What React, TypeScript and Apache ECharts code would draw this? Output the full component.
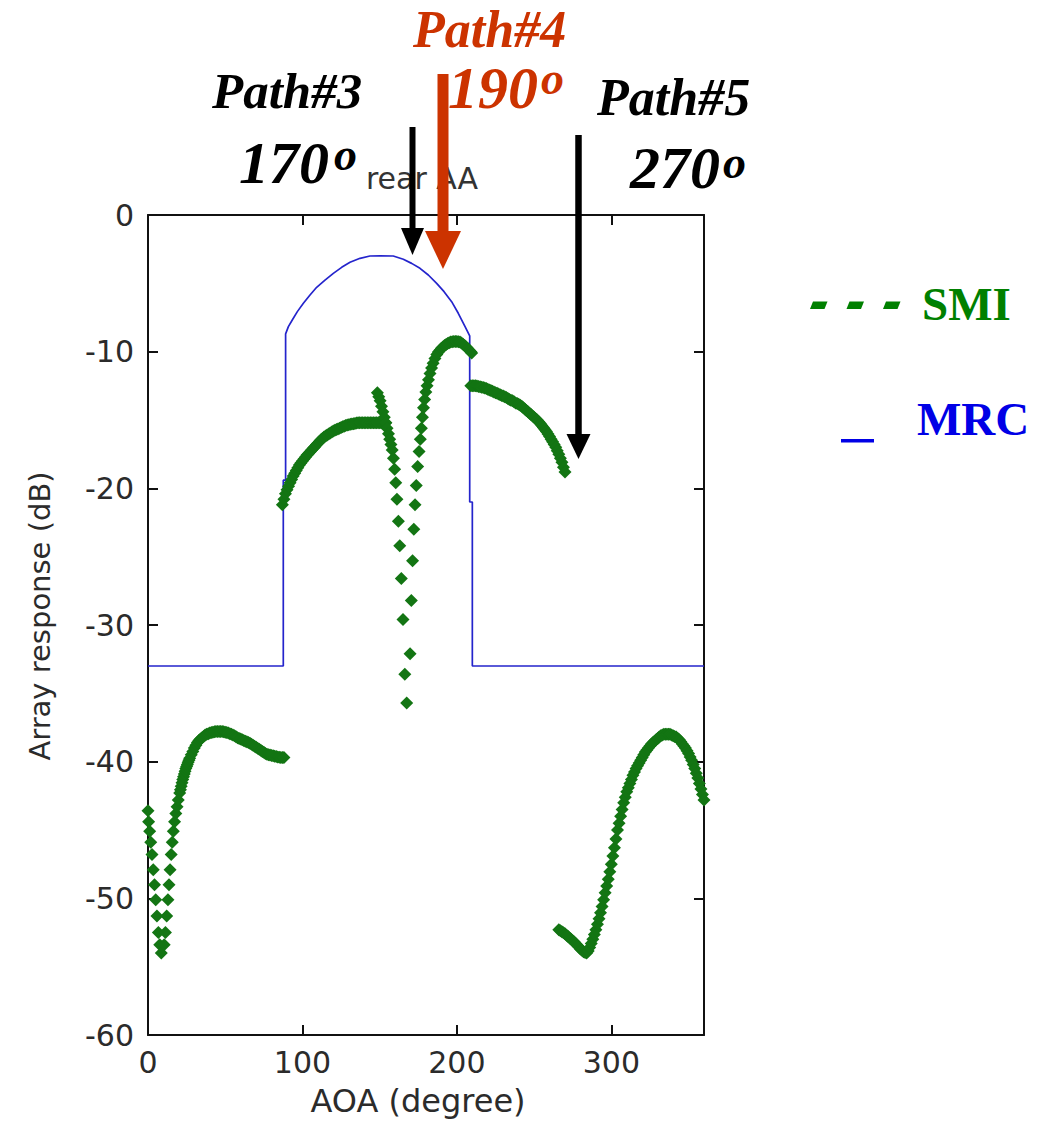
import React, { useEffect, useRef } from "react";
import * as echarts from "echarts";

// ---- axes ----
const xMin = 0;
const xMax = 360;
const xStep = 100;
const yMin = -60;
const yMax = 0;
const yStep = 10;

// ---- MRC (blue line) ----
const mrcAoa = [0, 87.6, 87.6, 89.1, 89.1, 90.9, 93.7, 96.7, 100.6, 104.9, 109.2, 114.6, 120.0, 125.4, 130.8, 137.3, 143.7, 150.2, 158.8, 165.3, 170.7, 176.1, 181.5, 186.9, 191.7, 196.6, 200.9, 205.3, 208.3, 208.3, 210, 210, 360];
const mrcDb = [-33, -33, -19.4, -19.4, -8.7, -8.17, -7.63, -7.07, -6.46, -5.85, -5.29, -4.76, -4.27, -3.83, -3.46, -3.17, -3.0, -2.98, -3.0, -3.24, -3.54, -3.9, -4.39, -5.0, -5.61, -6.34, -7.19, -8.17, -8.85, -21, -21, -33, -33];

// ---- SMI (green diamonds), [AOA, dB] ----
const smiNullLeft: [number, number][] = [
  [0, -43.6], [0.4, -44.4], [1.1, -45.1], [1.8, -45.9], [2.6, -46.8], [3.4, -47.9], [4.2, -49.0],
  [5.0, -50.1], [5.8, -51.3], [6.7, -52.5], [7.6, -53.4], [8.6, -54.0],
];
const smiLobeLeft: [number, number][] = [
  [10.5, -53.4], [11.3, -52.5], [12.1, -51.3], [12.9, -50.1], [13.6, -49.0], [14.3, -47.9], [15.0, -46.8],
  [15.7, -45.9], [16.4, -45.1], [17.2, -44.4], [18.0, -43.8], [18.8, -43.3], [19.6, -42.8], [20.5, -42.3],
  [21.0, -42.05], [21.5, -41.8], [22.0, -41.55], [22.5, -41.3], [23.0, -41.1], [23.5, -40.9], [24.0, -40.7],
  [24.5, -40.5], [25.0, -40.35], [25.5, -40.2], [26.0, -40.05], [26.5, -39.9], [27, -39.75], [28, -39.5],
  [29, -39.25], [30, -39.0], [31, -38.8], [32, -38.6], [33, -38.45], [34, -38.35], [35, -38.25], [36, -38.15],
  [37, -38.05], [38, -38.0], [39, -37.95], [40, -37.9], [41, -37.87], [42, -37.85], [43, -37.82], [44, -37.8],
  [45, -37.8], [46, -37.8], [47, -37.8], [48, -37.8], [49, -37.82], [50, -37.85], [51, -37.87], [52, -37.9],
  [53, -37.95], [54, -38.0], [55, -38.05], [56, -38.1], [57, -38.17], [58, -38.25], [59, -38.3], [60, -38.35],
  [61, -38.4], [62, -38.45], [63, -38.5], [64, -38.55], [65, -38.6], [66, -38.65], [67, -38.72], [68, -38.8],
  [69, -38.87], [70, -38.95], [71, -39.02], [72, -39.1], [73, -39.17], [74, -39.25], [75, -39.32], [76, -39.4],
  [77, -39.45], [78, -39.5], [79, -39.52], [80, -39.55], [81, -39.57], [82, -39.6], [83, -39.62], [84, -39.65],
  [85, -39.67], [86, -39.7], [87, -39.7], [88, -39.7],
];
const smiRise: [number, number][] = [
  [87, -21.2], [88, -20.8], [89, -20.4], [90, -20.1], [91, -19.85], [92, -19.6], [93, -19.35], [94, -19.1],
  [95, -18.9], [96, -18.7], [97, -18.5], [98, -18.3], [99, -18.15], [100, -18.0], [101, -17.85], [102, -17.7],
  [103, -17.57], [104, -17.45], [105, -17.32], [106, -17.2], [107, -17.07], [108, -16.95], [109, -16.82],
  [110, -16.7], [111, -16.57], [112, -16.45], [113, -16.35], [114, -16.25], [115, -16.17], [116, -16.1],
  [117, -16.02], [118, -15.95], [119, -15.87], [120, -15.8], [121, -15.75], [122, -15.7], [123, -15.65],
  [124, -15.6], [125, -15.55], [126, -15.5], [127, -15.45], [128, -15.4], [129, -15.37], [130, -15.35],
  [131, -15.32], [132, -15.3], [133, -15.27], [134, -15.25], [135, -15.22], [136, -15.2], [137, -15.2],
  [138, -15.2], [139, -15.2], [140, -15.2], [141, -15.2], [142, -15.2], [143, -15.2], [144, -15.2],
  [145, -15.2], [146, -15.2], [147, -15.2], [148, -15.2], [149, -15.2], [150, -15.2], [151, -15.2],
  [152, -15.2], [153, -15.2], [154, -15.2],
];
const smiNullDown: [number, number][] = [
  [148.5, -13.0], [149.4, -13.3], [150.3, -13.6], [151.2, -14.0], [152.1, -14.4], [153, -14.8], [153.9, -15.2],
  [154.8, -15.6], [155.7, -16.0], [156.5, -16.4], [157.3, -16.8], [158.1, -17.2], [158.9, -17.8], [159.7, -18.6],
  [160.4, -19.6], [161.2, -20.8], [162.1, -22.4], [163, -24.2], [164, -26.6], [165.1, -29.6], [166.3, -33.6],
  [167.5, -35.7],
];
const smiNullUp: [number, number][] = [
  [169.7, -32.1], [170.5, -28.2], [171.3, -25.3], [172.1, -23.0], [172.9, -21.2], [173.7, -19.8], [174.6, -18.4],
  [175.5, -17.3], [176.3, -16.4], [177, -15.6], [177.7, -14.8], [178.4, -14.1], [179.1, -13.5], [179.9, -12.95],
  [180.7, -12.5], [181.6, -12.05], [182.6, -11.6], [183.6, -11.2], [184.6, -10.85], [185.8, -10.5], [187, -10.2],
  [188, -10.03], [189, -9.9], [190, -9.75], [191, -9.65], [192, -9.55], [193, -9.47], [194, -9.4], [195, -9.35],
  [196, -9.3], [197, -9.27], [198, -9.25], [199, -9.25], [200, -9.25], [201, -9.27], [202, -9.3], [203, -9.37],
  [204, -9.45], [205, -9.55], [206, -9.65], [207, -9.77], [208, -9.9], [209, -10.0], [209.6, -10.1],
];
const smiFall: [number, number][] = [
  [209, -12.5], [210, -12.5], [211, -12.5], [212, -12.5], [213, -12.52], [214, -12.55], [215, -12.57],
  [216, -12.6], [217, -12.62], [218, -12.65], [219, -12.7], [220, -12.75], [221, -12.8], [222, -12.85],
  [223, -12.9], [224, -12.95], [225, -13.0], [226, -13.05], [227, -13.1], [228, -13.15], [229, -13.2],
  [230, -13.25], [231, -13.3], [232, -13.35], [233, -13.42], [234, -13.5], [235, -13.55], [236, -13.6],
  [237, -13.67], [238, -13.75], [239, -13.8], [240, -13.85], [241, -13.92], [242, -14.0], [243, -14.1],
  [244, -14.2], [245, -14.3], [246, -14.4], [247, -14.5], [248, -14.6], [249, -14.7], [250, -14.8],
  [251, -14.9], [252, -15.0], [253, -15.12], [254, -15.25], [255, -15.4], [256, -15.55], [257, -15.7],
  [258, -15.85], [259, -16.02], [260, -16.2], [261, -16.4], [262, -16.6], [263, -16.8], [264, -17.0],
  [265, -17.25], [266, -17.5], [267, -17.8], [268, -18.1], [269, -18.45], [270, -18.8],
];
const smiLobeRight: [number, number][] = [
  [266, -52.3], [267, -52.37], [268, -52.45], [269, -52.52], [270, -52.6], [271, -52.7], [272, -52.8],
  [273, -52.9], [274, -53.0], [275, -53.1], [276, -53.2], [277, -53.32], [278, -53.45], [279, -53.57],
  [280, -53.7], [281, -53.8], [282, -53.9], [283, -53.97], [284, -54.0], [285, -53.85], [286, -53.6],
  [287, -53.3], [288, -53.0], [289, -52.65], [290, -52.3], [291, -51.9], [292, -51.5], [293, -51.05],
  [294, -50.6], [295, -50.1], [296, -49.6], [297, -49.1], [298, -48.6], [299, -48.05], [300, -47.5],
  [301, -46.9], [302, -46.3], [303, -45.65], [304, -45.0], [305, -44.5], [306, -44.0], [307, -43.5],
  [308, -43.0], [309, -42.6], [310, -42.2], [311, -41.9], [312, -41.6], [313, -41.3], [314, -41.0],
  [315, -40.75], [316, -40.5], [317, -40.3], [318, -40.1], [319, -39.9], [320, -39.7], [321, -39.5],
  [322, -39.3], [323, -39.15], [324, -39.0], [325, -38.85], [326, -38.7], [327, -38.6], [328, -38.5],
  [329, -38.4], [330, -38.3], [331, -38.2], [332, -38.1], [333, -38.05], [334, -38.0], [335, -38.0],
  [336, -38.0], [337, -38.0], [338, -38.0], [339, -38.05], [340, -38.1], [341, -38.15], [342, -38.2],
  [343, -38.3], [344, -38.4], [345, -38.55], [346, -38.7], [347, -38.85], [348, -39.0], [349, -39.2],
  [350, -39.4], [351, -39.65], [352, -39.9], [353, -40.2], [354, -40.5], [355, -40.85], [356, -41.2],
  [357, -41.6], [358, -42.0], [359, -42.4], [360, -42.8],
];

// ---- texts ----
const titleText = "rear AA";
const xName = "AOA (degree)";
const yName = "Array response (dB)";
const legendSmi = "SMI";
const legendMrc = "MRC";
const pathLabels = ["Path#3", "Path#4", "Path#5"];
const pathAngles = ["170", "190", "270"];

const SERIF = '"Liberation Serif", "Times New Roman", serif';
const SANS = '"DejaVu Sans", Verdana, sans-serif';
const RED = "#cc3300";

export default function App() {
  const ref = useRef<HTMLDivElement>(null);

  useEffect(() => {
    document.body.style.margin = "0";
    if (!ref.current) return;
    const chart = echarts.init(ref.current, null, { renderer: "svg" });

    const axisLine = { show: true, onZero: false, lineStyle: { color: "#111", width: 2 } };
    const tick = { show: true, inside: true, length: 10, lineStyle: { color: "#111", width: 2 } };
    const labelStyle = { fontSize: 30, fontFamily: SANS, color: "#2b2b2b" };

    const bigText = (text: string, x: number, y: number, fill: string, size: number, italic = true) => ({
      type: "text",
      x,
      y,
      z: 10,
      style: {
        text,
        fill,
        fontSize: size,
        fontFamily: SERIF,
        fontWeight: "bold",
        fontStyle: italic ? "italic" : "normal",
        align: "left",
        textAlign: "left",
        verticalAlign: "middle",
        textVerticalAlign: "middle",
      },
    });

    const arrow = (x: number, yTop: number, yTip: number, w: number, headW: number, headH: number, color: string) => [
      {
        type: "line",
        z: 20,
        shape: { x1: x, y1: yTop, x2: x, y2: yTip - headH + 3 },
        style: { stroke: color, lineWidth: w },
      },
      {
        type: "polygon",
        z: 20,
        shape: { points: [[x - headW / 2, yTip - headH], [x + headW / 2, yTip - headH], [x, yTip]] },
        style: { fill: color },
      },
    ];

    const dash = (x0: number, y0: number) => ({
      type: "polygon",
      shape: { points: [[x0 + 3, y0], [x0 + 17.5, y0], [x0 + 14.5, y0 + 7.5], [x0, y0 + 7.5]] },
      style: { fill: "#008000" },
    });

    const option: any = {
      animation: false,
      backgroundColor: "#ffffff",
      grid: { left: 148, top: 215, width: 556, height: 820, containLabel: false },
      xAxis: [
        {
          type: "value",
          position: "bottom",
          min: xMin,
          max: xMax,
          interval: xStep,
          axisLine,
          axisTick: tick,
          splitLine: { show: false },
          axisLabel: { ...labelStyle, margin: 12, showMaxLabel: false },
        },
        {
          type: "value",
          position: "top",
          min: xMin,
          max: xMax,
          interval: xStep,
          axisLine,
          axisTick: tick,
          splitLine: { show: false },
          axisLabel: { show: false },
        },
      ],
      yAxis: [
        {
          type: "value",
          position: "left",
          min: yMin,
          max: yMax,
          interval: yStep,
          axisLine,
          axisTick: tick,
          splitLine: { show: false },
          axisLabel: { ...labelStyle, margin: 14 },
        },
        {
          type: "value",
          position: "right",
          min: yMin,
          max: yMax,
          interval: yStep,
          axisLine,
          axisTick: tick,
          splitLine: { show: false },
          axisLabel: { show: false },
        },
      ],
      series: [
        {
          name: "MRC",
          type: "line",
          xAxisIndex: 0,
          yAxisIndex: 0,
          data: mrcAoa.map((a, i) => [a, mrcDb[i]]),
          showSymbol: false,
          symbol: "none",
          lineStyle: { color: "#2424cc", width: 1.7 },
          z: 2,
        },
        {
          name: "SMI",
          type: "scatter",
          xAxisIndex: 0,
          yAxisIndex: 0,
          data: [
            ...smiNullLeft,
            ...smiLobeLeft,
            ...smiRise,
            ...smiNullDown,
            ...smiNullUp,
            ...smiFall,
            ...smiLobeRight,
          ],
          symbol: "diamond",
          symbolSize: [13, 13],
          itemStyle: { color: "#137513", opacity: 1 },
          clip: false,
          z: 3,
        },
      ],
      graphic: [
        {
          type: "text",
          x: 422,
          y: 178,
          z: 5,
          style: {
            text: titleText,
            fill: "#333",
            fontSize: 30,
            fontFamily: SANS,
            align: "center",
            textAlign: "center",
            verticalAlign: "middle",
            textVerticalAlign: "middle",
          },
        },
        {
          type: "text",
          x: 418,
          y: 1101,
          style: {
            text: xName,
            fill: "#2b2b2b",
            fontSize: 32,
            fontFamily: SANS,
            align: "center",
            textAlign: "center",
            verticalAlign: "middle",
            textVerticalAlign: "middle",
          },
        },
        {
          type: "text",
          x: 40,
          y: 616,
          rotation: Math.PI / 2,
          style: {
            text: yName,
            fill: "#2b2b2b",
            fontSize: 29,
            fontFamily: SANS,
            align: "center",
            textAlign: "center",
            verticalAlign: "middle",
            textVerticalAlign: "middle",
          },
        },
        // path annotations
        bigText(pathLabels[0], 212, 91, "#000", 51),
        bigText(pathAngles[0], 239, 163, "#000", 60),
        bigText("o", 334, 154, "#000", 46),
        bigText(pathLabels[1], 413, 29, RED, 52),
        bigText(pathAngles[1], 448, 88, RED, 60),
        bigText("o", 541, 78, RED, 46),
        bigText(pathLabels[2], 597, 97, "#000", 52),
        bigText(pathAngles[2], 630, 168, "#000", 60),
        bigText("o", 723, 162, "#000", 46),
        // arrows
        ...arrow(412.5, 127, 255, 6, 23, 27, "#000"),
        ...arrow(443, 74, 269, 11, 36, 38, RED),
        ...arrow(578.5, 135, 459, 6.5, 24, 25, "#000"),
        // legend
        dash(810, 301.5),
        dash(846.5, 301.5),
        dash(883, 301.5),
        bigText(legendSmi, 922, 304, "#008000", 47, false),
        {
          type: "rect",
          shape: { x: 841, y: 439, width: 33, height: 3.5 },
          style: { fill: "#0000e6" },
        },
        bigText(legendMrc, 917, 419, "#0000e6", 47, false),
      ],
    };

    chart.setOption(option);
    return () => chart.dispose();
  }, []);

  return (
    <div
      ref={ref}
      style={{ position: "absolute", left: 0, top: 0, width: 1045, height: 1124, background: "#fff" }}
    />
  );
}
